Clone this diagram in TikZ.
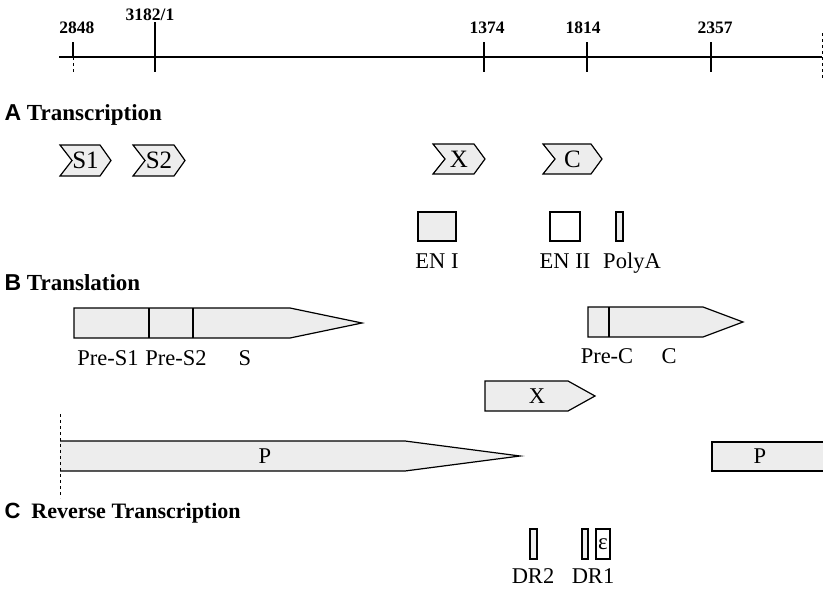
\documentclass[tikz,border=0pt]{standalone}
\usepackage{fontspec}
\setmainfont{Liberation Serif}
\newfontfamily\headsans{Liberation Sans}
\usepackage{tikz}
\usetikzlibrary{positioning}
\usepackage{xcolor}
\definecolor{stip}{gray}{0.93}

\begin{document}
\begin{tikzpicture}[x=1pt,y=-1pt,line width=1.2pt,
  lbl/.style={font=\fontsize{22.5}{25}\selectfont,inner sep=0pt},
  num/.style={font=\fontsize{17.5}{19}\selectfont\bfseries,inner sep=0pt,anchor=base},
  head/.style={font=\fontsize{23}{25}\selectfont\bfseries,inner sep=0pt,anchor=base west}]
\useasboundingbox (0,0) rectangle (823,589);
% map of the genome
\draw[line width=2.6pt] (59,57) -- (822,57);
\draw (73,42) -- (73,57);
\draw[dashed,line width=0.8pt] (73,57) -- (73,72);
\draw (155,22) -- (155,72);
\draw (484,42) -- (484,72);
\draw (587,42) -- (587,72);
\draw (711,42) -- (711,72);
\draw[dashed,line width=0.8pt] (822,33) -- (822,78);
\node[num] (n2848) at (77,33) {2848};
\node[num] (n3182) at (150,20) {3182/1};
\node[num] (n1374) at (487,33) {1374};
\node[num] (n1814) at (583,33) {1814};
\node[num] (n2357) at (715,33) {2357};

% A
\node[head] (ha) at (4,120) {{\headsans A} Transcription};
\foreach \xa/\xb/\ya/\yb/\txt/\nm in {60/111/145/176/S1/s1,133/185/145/176/S2/s2,433/485/144/174/X/x,543/602/144/174/C/c}{
  \fill[stip] (\xa,\ya) -- (\xb-11,\ya) -- (\xb,{(\ya+\yb)/2}) -- (\xb-11,\yb) -- (\xa,\yb) -- (\xa+12,{(\ya+\yb)/2}) -- cycle;
  \draw (\xa,\ya) -- (\xb-11,\ya) -- (\xb,{(\ya+\yb)/2}) -- (\xb-11,\yb) -- (\xa,\yb) -- (\xa+12,{(\ya+\yb)/2}) -- cycle;
  \node[lbl,font=\fontsize{25}{26}\selectfont] (\nm) at ({(\xa+\xb)/2},{(\ya+\yb)/2}) {\txt};
}
\draw[fill=stip] (418,212) rectangle (456,241);
\draw[fill=white] (550,212) rectangle (580,241);
\draw[fill=stip] (616,212) rectangle (623,241);
\node[lbl,anchor=base] (en1) at (437,268) {EN I};
\node[lbl,anchor=base] (en2) at (565,268) {EN II};
\node[lbl,anchor=base] (polya) at (632,268) {PolyA};

% B
\node[head] (hb) at (4,290) {{\headsans B} Translation};
\draw[fill=stip] (74,308) -- (290,308) -- (362,323) -- (290,338) -- (74,338) -- cycle;
\draw (149,308) -- (149,338);
\draw (193,308) -- (193,338);
\node[lbl,anchor=base] (pres1) at (108,365) {Pre-S1};
\node[lbl,anchor=base] (pres2) at (176,365) {Pre-S2};
\node[lbl,anchor=base] (s) at (245,365) {S};
\draw[fill=stip] (588,307) -- (703,307) -- (743,322) -- (703,337) -- (588,337) -- cycle;
\draw (609,307) -- (609,337);
\node[lbl,anchor=base] (prec) at (607,363) {Pre-C};
\node[lbl,anchor=base] (cc) at (669,363) {C};
\draw[fill=stip] (485,381) -- (568,381) -- (595,396) -- (568,411) -- (485,411) -- cycle;
\node[lbl] (xx) at (537,396) {X};
\fill[stip] (60,441) -- (405,441) -- (520,456) -- (405,471) -- (60,471) -- cycle;
\draw (60,441) -- (405,441) -- (520,456) -- (405,471) -- (60,471);
\draw[dashed,line width=0.8pt] (60,414) -- (60,498);
\node[lbl] (p1) at (265,456) {P};
\fill[stip] (712,442) rectangle (823,471);
\draw (823,442) -- (712,442) -- (712,471) -- (823,471);
\node[lbl] (p2) at (760,456) {P};

% C
\node[head,font=\fontsize{22}{24}\selectfont\bfseries] (hc) at (4,518) {{\headsans C}\hspace{0.25em} Reverse Transcription};
\draw[fill=stip] (530,529) rectangle (537,559);
\draw[fill=stip] (582,529) rectangle (588,559);
\draw (596,529) rectangle (610,559);
\node[lbl,font=\fontsize{23}{24}\selectfont] (eps) at (603,544) {ε};
\node[lbl,anchor=base] (dr2) at (533,583) {DR2};
\node[lbl,anchor=base] (dr1) at (593,583) {DR1};
\end{tikzpicture}
\end{document}
